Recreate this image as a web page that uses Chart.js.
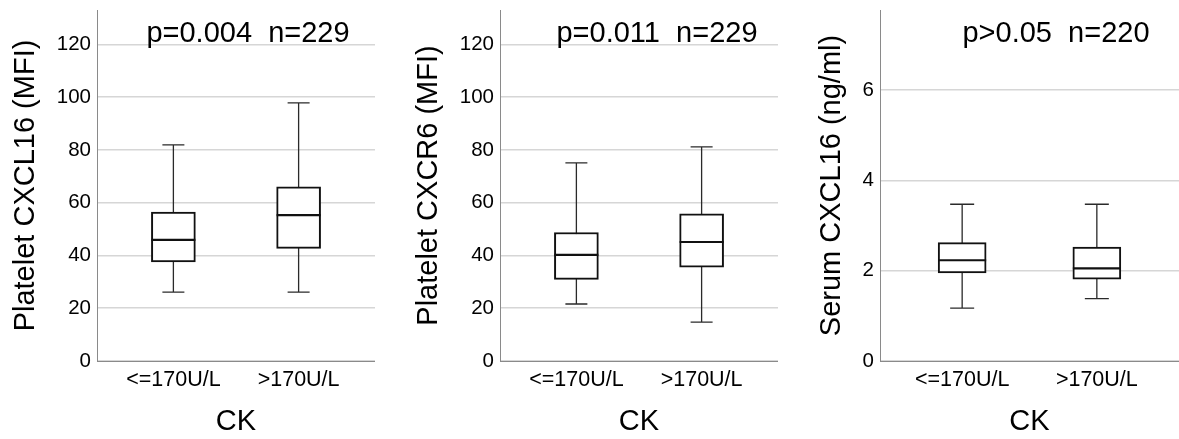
<!DOCTYPE html>
<html>
<head>
<meta charset="utf-8">
<script src="https://cdn.jsdelivr.net/npm/chart.js@4"></script>
<style>
  html, body { margin: 0; padding: 0; background: #fff; }
  #wrap { position: relative; width: 1179px; height: 439px; overflow: hidden; }
  .panel { position: absolute; top: 0; height: 439px; }
</style>
</head>
<body>
<div id="wrap">
  <div class="panel" style="left:0px;width:375px"><canvas id="plateletCxcl16" width="375" height="439"></canvas></div>
  <div class="panel" style="left:403px;width:375px"><canvas id="plateletCxcr6" width="375" height="439"></canvas></div>
  <div class="panel" style="left:806px;width:373px"><canvas id="serumCxcl16" width="373" height="439"></canvas></div>
</div>
<script>
// ── Data ─────────────────────────────────────────────────
const groups = ["<=170U/L", ">170U/L"];

const cxcl16Min = [26.1, 26.1];
const cxcl16Q1 = [37.5, 42.7];
const cxcl16Median = [45.9, 55.3];
const cxcl16Q3 = [56.4, 66.0];
const cxcl16Max = [81.9, 97.8];

const cxcr6Min = [21.6, 14.7];
const cxcr6Q1 = [30.9, 35.6];
const cxcr6Median = [40.2, 45.1];
const cxcr6Q3 = [48.7, 55.8];
const cxcr6Max = [75.1, 81.1];

const serumMin = [1.17, 1.38];
const serumQ1 = [1.95, 1.81];
const serumMedian = [2.23, 2.05];
const serumQ3 = [2.62, 2.52];
const serumMax = [3.47, 3.47];

const mfiTicks = [0, 20, 40, 60, 80, 100, 120];
const serumTicks = [0, 2, 4, 6];

const statLabels = ["p=0.004  n=229", "p=0.011  n=229", "p>0.05  n=220"];

// ── Chart setup ──────────────────────────────────────────
const FONT = "'Liberation Sans', Arial, Helvetica, sans-serif";
Chart.defaults.font.family = FONT;
Chart.defaults.color = "#000";

// whiskers, caps, medians and the p / n label
const boxWhiskerPlugin = {
    id: "boxWhisker",
    beforeDatasetsDraw(chart, args, opts) {
        const { ctx } = chart;
        const y = chart.scales.y;
        const meta = chart.getDatasetMeta(0);
        ctx.save();
        ctx.strokeStyle = "#2a2a2a";
        ctx.lineWidth = 1.3;
        meta.data.forEach((bar, i) => {
            const cap = bar.width / 4;
            const top = y.getPixelForValue(opts.max[i]);
            const bottom = y.getPixelForValue(opts.min[i]);
            ctx.beginPath();
            ctx.moveTo(bar.x, top);
            ctx.lineTo(bar.x, bottom);
            ctx.moveTo(bar.x - cap, top);
            ctx.lineTo(bar.x + cap, top);
            ctx.moveTo(bar.x - cap, bottom);
            ctx.lineTo(bar.x + cap, bottom);
            ctx.stroke();
        });
        ctx.restore();
    },
    afterDatasetsDraw(chart, args, opts) {
        const { ctx } = chart;
        const y = chart.scales.y;
        const meta = chart.getDatasetMeta(0);
        ctx.save();
        ctx.strokeStyle = "#111";
        ctx.lineWidth = 2.2;
        meta.data.forEach((bar, i) => {
            const py = y.getPixelForValue(opts.median[i]);
            ctx.beginPath();
            ctx.moveTo(bar.x - bar.width / 2, py);
            ctx.lineTo(bar.x + bar.width / 2, py);
            ctx.stroke();
        });
        ctx.restore();
    },
    afterDraw(chart, args, opts) {
        const { ctx, chartArea } = chart;
        ctx.save();
        ctx.font = `29px ${FONT}`;
        ctx.fillStyle = "#000";
        ctx.textAlign = "center";
        ctx.textBaseline = "alphabetic";
        ctx.fillText(opts.label, chartArea.left + opts.labelX, 42);
        ctx.restore();
    }
};

function makePanel(canvasId, cfg) {
    return new Chart(document.getElementById(canvasId), {
        type: "bar",
        data: {
            datasets: [{
                data: groups.map((g, i) => ({ x: i, y: [cfg.q1[i], cfg.q3[i]] })),
                backgroundColor: "#fff",
                borderColor: "#111",
                borderWidth: 2,
                borderSkipped: false,
                barThickness: cfg.boxWidth
            }]
        },
        options: {
            responsive: false,
            animation: false,
            layout: { padding: { top: 10, left: 0, right: 0, bottom: 0 } },
            plugins: {
                legend: { display: false },
                tooltip: { enabled: false },
                boxWhisker: {
                    min: cfg.min,
                    median: cfg.median,
                    max: cfg.max,
                    label: cfg.label,
                    labelX: cfg.labelX
                }
            },
            scales: {
                x: {
                    type: "linear",
                    min: -0.61,
                    max: 1.61,
                    offset: false,
                    afterFit: (scale) => {
                        scale.height = 78;
                        scale.paddingLeft = 0;
                        scale.paddingRight = 0;
                    },
                    afterBuildTicks: (scale) => {
                        scale.ticks = groups.map((g, i) => ({ value: i }));
                    },
                    grid: { display: false, drawTicks: false, offset: false },
                    border: { display: true, color: "#8a8a8a", width: 1 },
                    ticks: {
                        padding: 6,
                        font: { size: 21.5 },
                        callback: (value) => groups[value]
                    },
                    title: {
                        display: true,
                        text: "CK",
                        font: { size: 29 },
                        padding: { top: 0, bottom: 0 }
                    }
                },
                y: {
                    min: 0,
                    max: cfg.yMax,
                    afterFit: (scale) => {
                        scale.width = cfg.axisWidth;
                        scale.paddingTop = 0;
                        scale.paddingBottom = 0;
                    },
                    afterBuildTicks: (scale) => {
                        scale.ticks = cfg.ticks.map((v) => ({ value: v }));
                    },
                    grid: { color: "#d6d6d6", lineWidth: 1.5, drawTicks: false },
                    border: { display: true, color: "#8a8a8a", width: 1 },
                    ticks: { padding: 6, font: { size: 20.5 } },
                    title: {
                        display: true,
                        text: cfg.title,
                        font: { size: 29 },
                        padding: { top: 9, bottom: 0 }
                    }
                }
            }
        },
        plugins: [boxWhiskerPlugin]
    });
}

makePanel("plateletCxcl16", {
    title: "Platelet CXCL16 (MFI)",
    min: cxcl16Min, q1: cxcl16Q1, median: cxcl16Median, q3: cxcl16Q3, max: cxcl16Max,
    ticks: mfiTicks, yMax: 133, axisWidth: 97, boxWidth: 44,
    label: statLabels[0], labelX: 151
});

makePanel("plateletCxcr6", {
    title: "Platelet CXCR6 (MFI)",
    min: cxcr6Min, q1: cxcr6Q1, median: cxcr6Median, q3: cxcr6Q3, max: cxcr6Max,
    ticks: mfiTicks, yMax: 133, axisWidth: 97, boxWidth: 44,
    label: statLabels[1], labelX: 157
});

makePanel("serumCxcl16", {
    title: "Serum CXCL16 (ng/ml)",
    min: serumMin, q1: serumQ1, median: serumMedian, q3: serumQ3, max: serumMax,
    ticks: serumTicks, yMax: 7.77, axisWidth: 74, boxWidth: 48,
    label: statLabels[2], labelX: 176
});
</script>
</body>
</html>
